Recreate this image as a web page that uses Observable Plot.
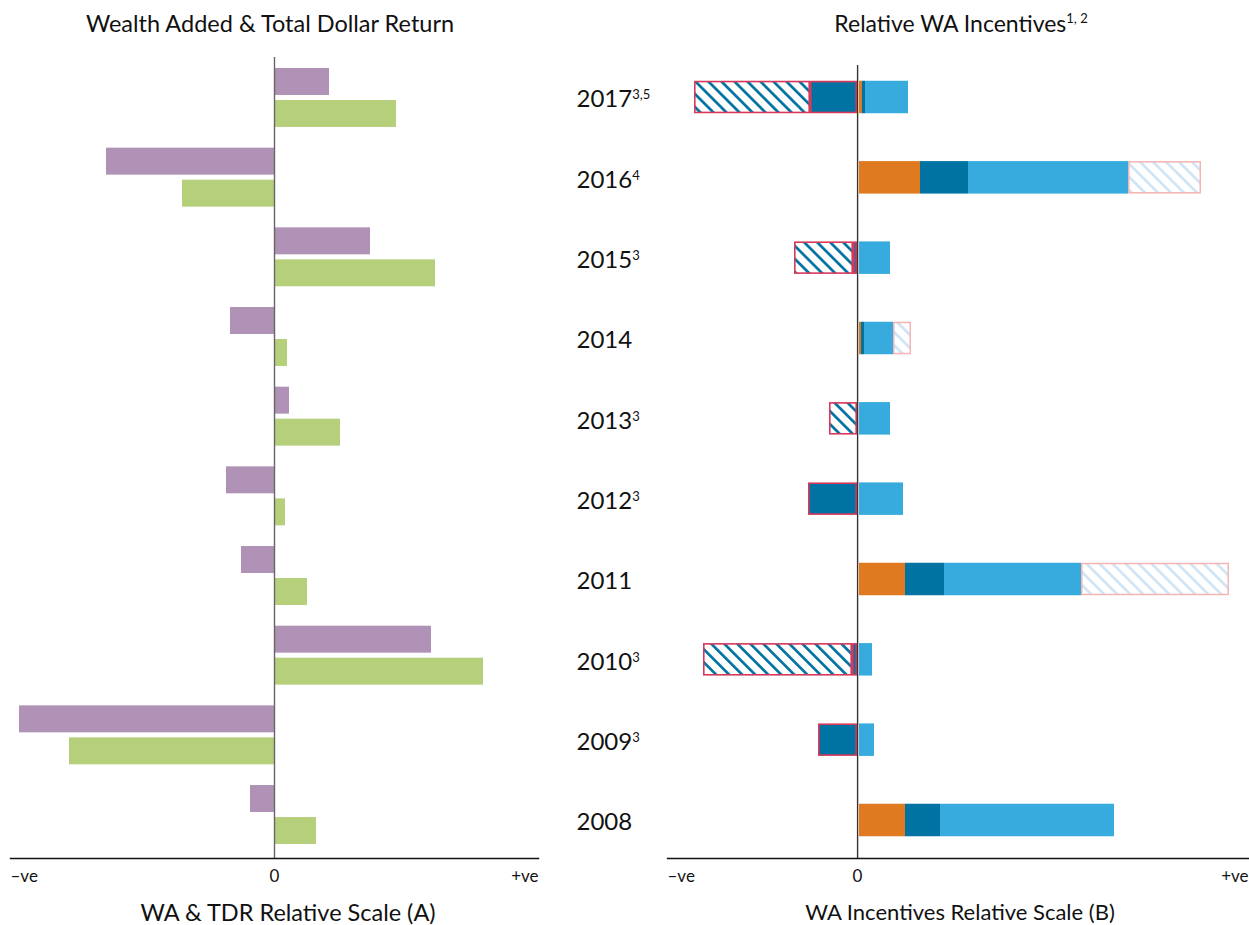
<!DOCTYPE html>
<html><head><meta charset="utf-8">
<script src="https://cdn.jsdelivr.net/npm/d3@7"></script>
<script src="https://cdn.jsdelivr.net/npm/@observablehq/plot@0.6"></script>
<style>
body{margin:0;background:#fff;font-family:Lato,"Noto Sans",sans-serif;}
#root{position:relative;width:1249px;height:925px;overflow:hidden;background:#fff}
.t{position:absolute;color:#111;white-space:nowrap;line-height:1;transform:translateX(-50%);}
.t sup{font-size:13px;vertical-align:0;position:relative;top:-9px;}
.p{position:absolute;top:0;}
</style></head><body><div id="root">
<div class="t" id="titleA" style="left:270px;top:12px;font-size:23.5px">Wealth Added &amp; Total Dollar Return</div>
<div class="t" id="titleB" style="left:961px;top:12px;font-size:23px">Relative WA Incentives<sup>1, 2</sup></div>
<div class="t" id="axisA" style="left:288px;top:901px;font-size:23.5px">WA &amp; TDR Relative Scale (A)</div>
<div class="t" id="axisB" style="left:960px;top:901px;font-size:22px">WA Incentives Relative Scale (B)</div>
<div class="p" id="left" style="left:0px"></div>
<div class="p" id="right" style="left:560px"></div>
</div>
<script>
// ---------- data ----------
const years = ["2017","2016","2015","2014","2013","2012","2011","2010","2009","2008"];
const yearNotes = ["3,5","4","3","","3","3","","3","3",""];
const tickLabels = ["–ve","0","+ve"];

// Left panel: Wealth Added (WA) and Total Dollar Return (TDR), relative scale A
const waValues  = [55,-168,96,-44,15,-48,-33,157,-255,-24];
const tdrValues = [122,-92,161,13,66,11,33,209,-205,42];
const scaleALimits = [-264, 264];

// Right panel: relative WA incentives, relative scale B
const incOrange     = [5,63,0,4,0,0,48,0,0,48];
const incDarkPos    = [3,48,0,3,0,0,39,0,0,35];
const incLightPos   = [43,160,33,29,33,46,137,15,17,174];
const incLightHatch = [0,73,0,18,0,0,148,0,0,0];
const incDarkNeg    = [-47,0,-4,0,0,-49,0,-5,-39,0];
const incHatchNeg   = [-116,0,-59,0,-28,0,0,-149,0,0];
const scaleBLimits = [-190, 391];

// ---------- left chart ----------
const leftRows = years.map((y,i)=>({year:y, wa:waValues[i], tdr:tdrValues[i]}));
const tickMarks = (limits, fs) => [
  Plot.text([limits[0]], {x:d=>d, text:()=>tickLabels[0], frameAnchor:"bottom", textAnchor:"start", dy:23, fontSize:fs, fill:"#111"}),
  Plot.text([0], {x:d=>d, text:()=>tickLabels[1], frameAnchor:"bottom", textAnchor:"middle", dy:23, fontSize:fs, fill:"#111"}),
  Plot.text([limits[1]], {x:d=>d, text:()=>tickLabels[2], frameAnchor:"bottom", textAnchor:"end", dy:23, fontSize:fs, fill:"#111"})
];

const leftPlot = Plot.plot({
  width:560, height:925,
  marginTop:57, marginBottom:67, marginLeft:10, marginRight:22,
  style:{fontFamily:"Lato, 'Noto Sans', sans-serif", background:"transparent"},
  x:{domain:scaleALimits, axis:null},
  y:{domain:years, axis:null, round:false, paddingInner:0.26, paddingOuter:0.157, align:0.44},
  marks:[
    Plot.barX(leftRows, {x:"wa", y:"year", fill:"#af92b5", insetBottom:32}),
    Plot.barX(leftRows, {x:"tdr", y:"year", fill:"#b6cf7b", insetTop:32}),
    Plot.ruleX([0], {stroke:"#666", strokeWidth:1.4}),
    Plot.frame({anchor:"bottom", stroke:"#111", strokeWidth:1.4}),
    ...tickMarks(scaleALimits, 17)
  ]
});
document.getElementById("left").appendChild(leftPlot);

// ---------- right chart ----------
const posSeries = [["orange",incOrange],["darkPos",incDarkPos],["light",incLightPos],["lightHatch",incLightHatch]];
const negSeries = [["darkNeg",incDarkNeg],["hatchNeg",incHatchNeg]];
const segs = [];
years.forEach((y,i)=>{
  for (const series of [posSeries, negSeries]) {
    let c = 0;
    for (const [k, arr] of series) {
      const v = arr[i];
      if (v) { segs.push({year:y, key:k, x1:c, x2:c+v}); c += v; }
    }
  }
});
const segStyle = {
  orange:    {fill:"#e07a20"},
  darkPos:   {fill:"#0073a3"},
  light:     {fill:"#38abde"},
  lightHatch:{fill:"url(#hatchLight)", stroke:"#f4b4b4", strokeWidth:1.5, inset:0.75},
  darkNeg:   {fill:"#0073a3", stroke:"#d8385a", strokeWidth:1.6, inset:0.8},
  hatchNeg:  {fill:"url(#hatchDark)", stroke:"#d8385a", strokeWidth:1.6, inset:0.8}
};
const segMarks = Object.keys(segStyle).map(k =>
  Plot.barX(segs.filter(d=>d.key===k), {x1:"x1", x2:"x2", y:"year", ...segStyle[k]}));

const rightPlot = Plot.plot({
  width:689, height:925,
  marginTop:65, marginBottom:67, marginLeft:107, marginRight:1,
  style:{fontFamily:"Lato, 'Noto Sans', sans-serif", background:"transparent"},
  x:{domain:scaleBLimits, axis:null},
  y:{domain:years, axis:null, round:false, paddingInner:0.5954, paddingOuter:0.2334, align:0.42},
  marks:[
    ...segMarks,
    Plot.ruleX([0], {stroke:"#d4d4d4", strokeWidth:1, dx:1}),
    Plot.ruleX([0], {stroke:"#333", strokeWidth:1.2}),
    Plot.frame({anchor:"bottom", stroke:"#111", strokeWidth:1.4}),
    Plot.text(years, {y:d=>d, text:d=>d, frameAnchor:"left", textAnchor:"start", dx:-91, dy:2, fontSize:24, fill:"#111"}),
    ...tickMarks(scaleBLimits, 17)
  ]
});

// hatch patterns
const NS = "http://www.w3.org/2000/svg";
const defs = document.createElementNS(NS, "defs");
function makePattern(id, bg, stripe, w, sw) {
  const p = document.createElementNS(NS, "pattern");
  p.setAttribute("id", id);
  p.setAttribute("patternUnits", "userSpaceOnUse");
  p.setAttribute("width", w); p.setAttribute("height", w);
  p.setAttribute("patternTransform", "rotate(-45)");
  const r0 = document.createElementNS(NS, "rect");
  r0.setAttribute("width", w); r0.setAttribute("height", w); r0.setAttribute("fill", bg);
  const r1 = document.createElementNS(NS, "rect");
  r1.setAttribute("width", sw); r1.setAttribute("height", w); r1.setAttribute("fill", stripe);
  p.appendChild(r0); p.appendChild(r1);
  defs.appendChild(p);
}
makePattern("hatchDark", "#ffffff", "#0073a3", 9.2, 2.7);
makePattern("hatchLight", "#ffffff", "#cfe5f6", 9.2, 2.7);
rightPlot.insertBefore(defs, rightPlot.firstChild);

// superscript notes on year labels
rightPlot.querySelectorAll("text").forEach(t => {
  const idx = years.indexOf(t.textContent.trim());
  if (idx >= 0 && yearNotes[idx]) {
    const ts = document.createElementNS(NS, "tspan");
    ts.setAttribute("dy", "-8");
    ts.setAttribute("font-size", "13");
    ts.textContent = yearNotes[idx];
    t.appendChild(ts);
  }
});
document.getElementById("right").appendChild(rightPlot);
</script></body></html>
